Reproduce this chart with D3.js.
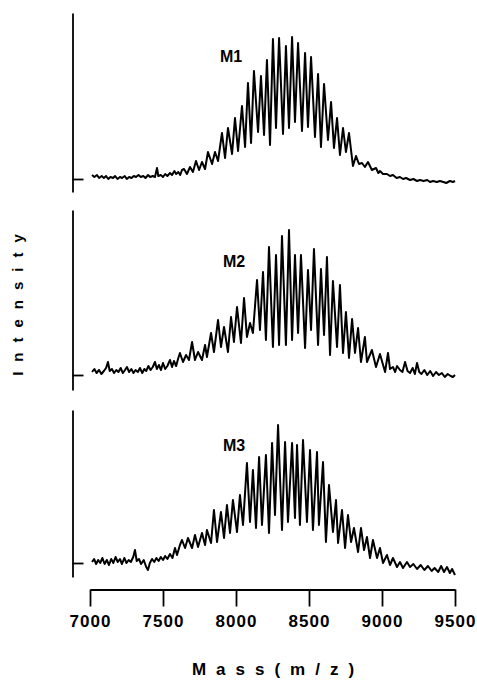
<!DOCTYPE html>
<html lang="en">
    <head>
        <meta charset="UTF-8">
        <script src="https://d3js.org/d3.v7.min.js"></script>
        <title>Mass spectra</title>
        <style>
            body { margin: 0; background: #fff; }
        </style>
    </head>
    <body>
        <div id="container"></div>
    </body>
    <script>
        // spectra: [mass, intensity (arb. units)]
        const m1 = [
            [7014,4],[7030,2],[7048,4],[7062,1],[7080,3],[7095,1],[7110,3],[7125,0],[7140,2],[7158,1],
            [7172,3],[7188,0],[7205,2],[7220,1],[7238,3],[7252,0],[7268,2],[7285,1],[7300,3],[7315,2],
            [7332,4],[7348,2],[7365,3],[7380,1],[7398,4],[7412,2],[7430,3],[7445,2],[7459,11],[7468,3],
            [7485,4],[7500,2],[7515,5],[7530,3],[7548,6],[7562,4],[7578,8],[7590,5],[7605,7],[7618,4],
            [7630,9],[7644,10],[7664,5],[7685,12],[7705,7],[7726,18],[7747,9],[7767,17],[7788,10],[7808,27],
            [7836,15],[7856,27],[7877,18],[7904,46],[7925,21],[7945,51],[7973,25],[7993,61],[8014,28],[8041,73],
            [8062,32],[8082,96],[8103,36],[8123,108],[8151,47],[8171,103],[8192,44],[8212,119],[8233,34],[8253,140],
            [8274,51],[8295,141],[8322,45],[8342,133],[8363,51],[8384,142],[8404,57],[8425,136],[8452,48],[8473,126],
            [8493,52],[8514,122],[8541,42],[8562,105],[8582,32],[8603,95],[8630,39],[8651,77],[8671,31],[8692,61],
            [8712,24],[8733,51],[8753,27],[8774,46],[8801,13],[8822,23],[8842,15],[8863,16],[8883,12],[8904,17],
            [8931,9],[8959,11],[8975,6],[8986,8],[9007,5],[9034,5],[9055,3],[9075,4],[9100,1],[9123,2],
            [9144,0],[9165,1],[9192,-1],[9215,0],[9240,-2],[9260,-1],[9285,-2],[9310,-1],[9329,-3],[9350,-2],
            [9375,-3],[9397,-2],[9420,-3],[9440,-4],[9465,-2],[9486,-3],[9500,-2]
        ];

        const m2 = [
            [7014,3],[7030,6],[7045,2],[7062,5],[7078,1],[7095,4],[7110,7],[7123,13],[7135,4],[7150,6],
            [7165,2],[7180,5],[7195,3],[7210,7],[7225,2],[7240,5],[7253,8],[7268,3],[7283,6],[7298,2],
            [7312,5],[7328,3],[7342,7],[7358,2],[7372,6],[7385,4],[7400,9],[7415,5],[7430,8],[7445,13],
            [7458,6],[7472,10],[7486,5],[7500,12],[7515,6],[7530,9],[7548,15],[7562,8],[7575,14],[7590,9],
            [7603,16],[7616,22],[7637,13],[7658,20],[7678,15],[7699,33],[7719,15],[7740,23],[7767,15],[7788,30],
            [7801,18],[7829,42],[7849,23],[7877,55],[7897,28],[7918,48],[7945,23],[7966,58],[7986,33],[8007,68],
            [8034,32],[8055,77],[8075,38],[8096,52],[8116,42],[8144,95],[8164,45],[8185,103],[8205,35],[8226,128],
            [8253,28],[8274,120],[8295,30],[8315,139],[8342,30],[8363,145],[8384,35],[8404,120],[8425,42],[8445,120],
            [8473,27],[8493,105],[8514,45],[8534,126],[8562,30],[8582,106],[8603,40],[8623,118],[8644,20],[8664,94],
            [8692,28],[8712,90],[8733,22],[8753,63],[8774,17],[8795,56],[8815,22],[8836,47],[8856,13],[8883,38],
            [8897,13],[8931,25],[8959,8],[8986,21],[9021,3],[9041,22],[9055,6],[9075,8],[9090,3],[9103,9],
            [9123,5],[9140,3],[9158,13],[9175,4],[9192,2],[9210,7],[9225,1],[9240,12],[9255,3],[9270,1],
            [9290,5],[9310,0],[9330,4],[9350,-1],[9370,3],[9390,0],[9410,2],[9430,-2],[9450,1],[9470,-1],
            [9486,-2],[9500,0]
        ];

        const m3 = [
            [7014,1],[7028,4],[7042,-1],[7056,3],[7070,0],[7085,5],[7100,-1],[7115,3],[7130,-2],[7145,4],
            [7160,0],[7175,6],[7190,1],[7205,4],[7219,-1],[7235,5],[7250,0],[7265,3],[7280,1],[7296,6],
            [7308,13],[7320,2],[7335,4],[7350,-1],[7368,3],[7385,-4],[7397,-7],[7410,0],[7425,4],[7440,1],
            [7455,5],[7470,2],[7485,6],[7500,3],[7515,7],[7530,4],[7548,9],[7565,5],[7582,15],[7596,8],
            [7616,18],[7630,23],[7651,15],[7671,25],[7699,15],[7719,28],[7740,16],[7767,30],[7788,18],[7801,33],
            [7829,20],[7849,53],[7870,21],[7897,51],[7918,25],[7938,58],[7959,30],[7979,63],[8007,31],[8027,68],
            [8048,38],[8075,100],[8096,41],[8116,93],[8137,35],[8158,106],[8178,38],[8205,108],[8226,30],[8247,120],
            [8267,48],[8288,138],[8315,33],[8336,121],[8356,41],[8384,120],[8404,45],[8418,118],[8438,38],[8459,123],
            [8486,41],[8507,113],[8527,33],[8555,111],[8568,38],[8596,101],[8616,21],[8637,78],[8664,31],[8685,63],
            [8699,20],[8726,53],[8747,15],[8767,48],[8788,21],[8808,35],[8836,11],[8856,35],[8877,13],[8897,26],
            [8918,5],[8938,23],[8966,5],[8986,15],[9007,0],[9034,8],[9055,-2],[9075,5],[9103,-4],[9123,1],
            [9144,-5],[9171,1],[9192,-4],[9215,-1],[9240,-6],[9265,-2],[9290,-7],[9315,-3],[9340,-8],[9360,-5],
            [9385,-9],[9405,-3],[9425,-9],[9445,-4],[9465,-10],[9480,-6],[9500,-12]
        ];

        const names = ['M1', 'M2', 'M3'];
        const massTicks = [7000, 7500, 8000, 8500, 9000, 9500];

        const width = 477;
        const height = 685;

        // pixel layout of the three stacked panels
        const panels = [
            {data: m1, top: 13, base: 179, bottom: 192, lx: 231, ly: 62},
            {data: m2, top: 210, base: 375, bottom: 390, lx: 234, ly: 267},
            {data: m3, top: 410, base: 563, bottom: 577, lx: 234, ly: 451},
        ];
        const axisX = 72.5;
        const axisY = 589.5;

        const font = '"Liberation Sans", Arial, sans-serif';

        const svg = d3.select('#container')
            .append('svg')
            .attr('width', width)
            .attr('height', height)
            .attr('viewBox', [0, 0, width, height]);

        svg.append('rect').attr('width', width).attr('height', height).attr('fill', '#fff');

        const x = d3.scaleLinear().domain([7000, 9500]).range([90, 455]);

        panels.forEach(function(p, i){
            const y = d3.scaleLinear()
                .domain([p.base - p.bottom, p.base - p.top])
                .range([p.bottom, p.top]);

            svg.append('g')
                .attr('transform', `translate(${axisX},0)`)
                .call(d3.axisRight(y).tickValues([0]).tickSize(11).tickSizeOuter(0).tickFormat(''))
                .call(g => g.selectAll('path, line').attr('stroke', '#000').attr('stroke-width', 1.8));

            const line = d3.line()
                .x(d => x(d[0]))
                .y(d => y(d[1]));

            svg.append('path')
                .datum(p.data)
                .attr('d', line)
                .attr('fill', 'none')
                .attr('stroke', '#000')
                .attr('stroke-width', 2)
                .attr('stroke-linejoin', 'round');

            svg.append('text')
                .attr('x', p.lx)
                .attr('y', p.ly)
                .attr('text-anchor', 'middle')
                .style('font-family', font)
                .style('font-weight', 'bold')
                .style('font-size', '16px')
                .text(names[i]);
        });

        // shared mass axis
        const xAxis = svg.append('g')
            .attr('transform', `translate(0,${axisY})`)
            .call(d3.axisBottom(x).tickValues(massTicks).tickSize(17).tickSizeOuter(0).tickPadding(8).tickFormat(d3.format('d')));
        xAxis.selectAll('path, line').attr('stroke', '#000').attr('stroke-width', 1.8);
        xAxis.selectAll('text')
            .attr('fill', '#000')
            .style('font-family', font)
            .style('font-weight', 'bold')
            .style('font-size', '17px')
            .style('letter-spacing', '1px');

        svg.append('text')
            .attr('x', 278)
            .attr('y', 675)
            .attr('text-anchor', 'middle')
            .style('font-family', font)
            .style('font-weight', 'bold')
            .style('font-size', '17px')
            .style('letter-spacing', '10px')
            .text('Mass(m/z)');

        svg.append('text')
            .attr('transform', 'translate(23,300) rotate(-90)')
            .attr('text-anchor', 'middle')
            .style('font-family', font)
            .style('font-weight', 'bold')
            .style('font-size', '15px')
            .style('letter-spacing', '10px')
            .text('Intensity');
    </script>
</html>
